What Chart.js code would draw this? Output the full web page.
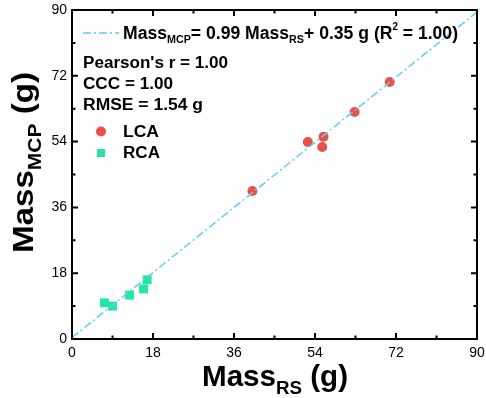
<!DOCTYPE html>
<html>
<head>
<meta charset="utf-8">
<script src="https://cdn.jsdelivr.net/npm/chart.js@4.4.1/dist/chart.umd.min.js"></script>
<style>
html,body{margin:0;padding:0;background:#fff;}
canvas{display:block;}
</style>
</head>
<body>
<canvas id="c" width="486" height="398"></canvas>
<script>
// ---- data ----
const lcaX = [40.1, 52.4, 55.9, 55.6, 62.8, 70.6];
const lcaY = [40.5, 53.9, 55.3, 52.5, 62.1, 70.3];
const rcaX = [7.2, 9.0, 12.8, 15.9, 16.7];
const rcaY = [9.9, 9.0, 12.0, 13.7, 16.2];
const fitSlope = 0.99;
const fitIntercept = 0.35;
const fitRange = [0, 90];
const axisTicks = [0, 18, 36, 54, 72, 90];
const statLines = ["Pearson's r = 1.00", "CCC = 1.00", "RMSE = 1.54 g"];
const seriesNames = ["LCA", "RCA"];

const RED = '#e9524b';
const GREEN = '#22e6a2';
const CYAN = '#5dcff0';
const FONT = '"Liberation Sans", Arial, sans-serif';

function rich(ctx, segs, x, y, w) {
  let nat = 0;
  segs.forEach(s => {
    ctx.font = 'bold ' + s.size + 'px ' + FONT;
    s.w = ctx.measureText(s.t).width;
    nat += s.w;
  });
  const k = w ? w / nat : 1;
  ctx.save();
  ctx.translate(x, y);
  ctx.scale(k, 1);
  ctx.fillStyle = '#000';
  ctx.textBaseline = 'alphabetic';
  ctx.textAlign = 'left';
  let cx = 0;
  segs.forEach(s => {
    ctx.font = 'bold ' + s.size + 'px ' + FONT;
    ctx.fillText(s.t, cx, s.dy || 0);
    cx += s.w;
  });
  ctx.restore();
}

const decor = {
  id: 'decor',
  afterDraw(chart) {
    const ctx = chart.ctx;
    const a = chart.chartArea;
    const xs = chart.scales.x, ys = chart.scales.y;
    ctx.save();
    // frame
    ctx.strokeStyle = '#000';
    ctx.lineWidth = 2;
    ctx.strokeRect(a.left, a.top, a.right - a.left, a.bottom - a.top);
    // inner ticks, major + minor on all sides
    for (let v = 0; v <= 90; v += 9) {
      const major = (v % 18 === 0);
      const L = major ? 6 : 3.5;
      const px = xs.getPixelForValue(v);
      const py = ys.getPixelForValue(v);
      ctx.beginPath();
      ctx.moveTo(px, a.bottom); ctx.lineTo(px, a.bottom - L);
      ctx.moveTo(px, a.top); ctx.lineTo(px, a.top + L);
      ctx.moveTo(a.left, py); ctx.lineTo(a.left + L, py);
      ctx.moveTo(a.right, py); ctx.lineTo(a.right - L, py);
      ctx.stroke();
    }
    // equation legend
    ctx.strokeStyle = CYAN;
    ctx.lineWidth = 1.5;
    ctx.setLineDash([8, 3, 2, 3]);
    ctx.beginPath(); ctx.moveTo(83, 33); ctx.lineTo(119, 33); ctx.stroke();
    ctx.setLineDash([]);
    rich(ctx, [
      {t: 'Mass', size: 18},
      {t: 'MCP', size: 11, dy: 4},
      {t: '= 0.99 Mass', size: 18},
      {t: 'RS', size: 11, dy: 4},
      {t: '+ 0.35 g (R', size: 18},
      {t: '2', size: 10, dy: -9},
      {t: ' = 1.00)', size: 18}
    ], 123, 39, 335);
    // statistics
    rich(ctx, [{t: statLines[0], size: 16}], 83, 68, 145);
    rich(ctx, [{t: statLines[1], size: 16}], 83, 89, 90);
    rich(ctx, [{t: statLines[2], size: 16}], 83, 110, 120);
    // series legend
    ctx.fillStyle = RED;
    ctx.beginPath(); ctx.arc(101, 131.5, 5, 0, Math.PI * 2); ctx.fill();
    ctx.fillStyle = GREEN;
    ctx.fillRect(97, 149, 8, 8);
    rich(ctx, [{t: seriesNames[0], size: 16}], 123, 137, 36);
    rich(ctx, [{t: seriesNames[1], size: 16}], 123, 158, 37);
    // axis titles
    rich(ctx, [
      {t: 'Mass', size: 30},
      {t: 'RS', size: 19, dy: 8},
      {t: ' (g)', size: 30}
    ], 202, 386, 146);
    ctx.save();
    ctx.translate(33, 253);
    ctx.rotate(-Math.PI / 2);
    rich(ctx, [
      {t: 'Mass', size: 30},
      {t: 'MCP', size: 19, dy: 8},
      {t: ' (g)', size: 30}
    ], 0, 0, 181);
    ctx.restore();
    ctx.restore();
  }
};

const fitData = fitRange.map(x => ({x: x, y: fitSlope * x + fitIntercept}));

new Chart(document.getElementById('c'), {
  type: 'scatter',
  data: {
    datasets: [
      {
        type: 'line',
        label: 'fit',
        data: fitData,
        borderColor: CYAN,
        borderWidth: 1.5,
        borderDash: [8, 3, 2, 3],
        pointRadius: 0,
        fill: false,
        order: 0
      },
      {
        label: seriesNames[0],
        data: lcaX.map((x, i) => ({x: x, y: lcaY[i]})),
        pointStyle: 'circle',
        pointRadius: 5,
        backgroundColor: RED,
        borderColor: RED,
        borderWidth: 0,
        order: 1
      },
      {
        label: seriesNames[1],
        data: rcaX.map((x, i) => ({x: x, y: rcaY[i]})),
        pointStyle: 'rect',
        pointRadius: 6.3,
        backgroundColor: GREEN,
        borderColor: GREEN,
        borderWidth: 0,
        order: 1
      }
    ]
  },
  options: {
    responsive: false,
    animation: false,
    layout: {padding: {top: 0, right: 0, left: 0, bottom: 0}},
    plugins: {legend: {display: false}, tooltip: {enabled: false}},
    scales: {
      x: {
        type: 'linear', min: 0, max: 90,
        afterBuildTicks: s => { s.ticks = axisTicks.map(v => ({value: v})); },
        afterFit: s => { s.height = 59; s.paddingLeft = 0; s.paddingRight = 9; },
        grid: {display: false, drawTicks: false},
        border: {display: false},
        ticks: {color: '#000', font: {family: FONT, size: 14}, padding: 6, maxRotation: 0, autoSkip: false}
      },
      y: {
        type: 'linear', min: 0, max: 90,
        afterBuildTicks: s => { s.ticks = axisTicks.map(v => ({value: v})); },
        afterFit: s => { s.width = 72; s.paddingTop = 10; s.paddingBottom = 0; },
        grid: {display: false, drawTicks: false},
        border: {display: false},
        ticks: {color: '#000', font: {family: FONT, size: 14}, padding: 5, autoSkip: false}
      }
    }
  },
  plugins: [decor]
});
</script>
</body>
</html>
